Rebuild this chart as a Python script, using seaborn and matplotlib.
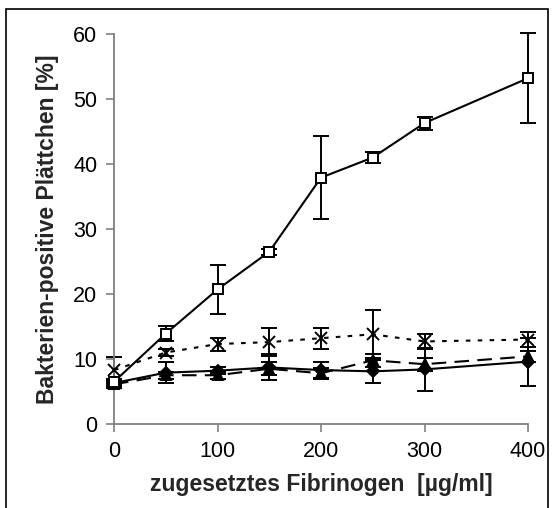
import numpy as np
import pandas as pd
import matplotlib
matplotlib.use("Agg")
import matplotlib.pyplot as plt
import seaborn as sns
from matplotlib.patches import Rectangle

x = [0, 50, 100, 150, 200, 250, 300, 400]
square_mean = [6.5, 13.9, 20.7, 26.5, 37.9, 41.0, 46.3, 53.2]
square_sd = [0.5, 1.2, 3.8, 0.5, 6.4, 0.8, 1.0, 6.9]
cross_mean = [8.3, 11.0, 12.3, 12.6, 13.2, 13.8, 12.7, 13.0]
cross_sd = [2.0, 0.5, 1.0, 2.1, 1.6, 3.7, 1.1, 1.2]
diamond_mean = [6.3, 7.9, 8.2, 8.7, 8.3, 8.1, 8.4, 9.6]
diamond_sd = [0.5, 1.6, 0.5, 2.0, 1.2, 1.8, 3.3, 3.7]
triangle_mean = [6.1, 7.5, 7.5, 8.5, 7.8, 9.8, 9.2, 10.4]
triangle_sd = [0.5, 0.5, 0.5, 1.0, 0.8, 1.0, 1.0, 0.8]

xticks = [0, 100, 200, 300, 400]
yticks = [0, 10, 20, 30, 40, 50, 60]
xlabel = "zugesetztes Fibrinogen  [µg/ml]"
ylabel = "Bakterien-positive Plättchen [%]"

sns.set_theme(style="white")
plt.rcParams["font.family"] = ["Liberation Sans", "DejaVu Sans"]

fig = plt.figure(figsize=(5.6, 5.08), dpi=100)
ax = fig.add_axes([114 / 560, 1 - 424 / 508, (528 - 114) / 560, (424 - 34) / 508])

series = [
    ("triangle", triangle_mean, triangle_sd, "^", (0, (7, 4)), "black", 7.5),
    ("diamond", diamond_mean, diamond_sd, "D", "-", "black", 6),
    ("cross", cross_mean, cross_sd, "x", (0, (2.2, 3.5)), "black", 9),
    ("square", square_mean, square_sd, "s", "-", "white", 6.5),
]

for name, m, sd, mk, ls, fc, ms in series:
    df = pd.DataFrame({"x": x, "y": m})
    ax.errorbar(x, m, yerr=sd, fmt="none", ecolor="black", elinewidth=1.4,
                capsize=5.5, capthick=1.4, zorder=2, clip_on=False)
    sns.lineplot(data=df, x="x", y="y", ax=ax, color="black", linewidth=1.5,
                 linestyle=ls, marker=mk, markersize=ms,
                 markerfacecolor=fc, markeredgecolor="black",
                 markeredgewidth=1.4, zorder=3, clip_on=False)

ax.set_xlim(0, 400)
ax.set_ylim(0, 60)
ax.set_xticks(xticks)
ax.set_yticks(yticks)
ax.set_xticklabels([str(t) for t in xticks], fontsize=15.5)
ax.set_yticklabels([str(t) for t in yticks], fontsize=15.5)
ax.tick_params(axis="both", direction="out", length=6, width=1.2, color="#808080",
               labelcolor="black", pad=6, bottom=True, left=True)
for s in ["top", "right"]:
    ax.spines[s].set_visible(False)
for s in ["left", "bottom"]:
    ax.spines[s].set_color("#808080")
    ax.spines[s].set_linewidth(1.3)
ax.set_xlabel(xlabel, fontsize=16.5, fontweight="bold", labelpad=8)
ax.set_ylabel(ylabel, fontsize=16.5, fontweight="bold", labelpad=10)
ax.set_facecolor("white")
ax.grid(False)

fig.patches.append(Rectangle((6 / 560, -0.05), (548 - 6) / 560, 1.05 - 9 / 508,
                             transform=fig.transFigure, fill=False,
                             edgecolor="black", linewidth=1.2))

fig.savefig("out.png", dpi=100, facecolor="white")
